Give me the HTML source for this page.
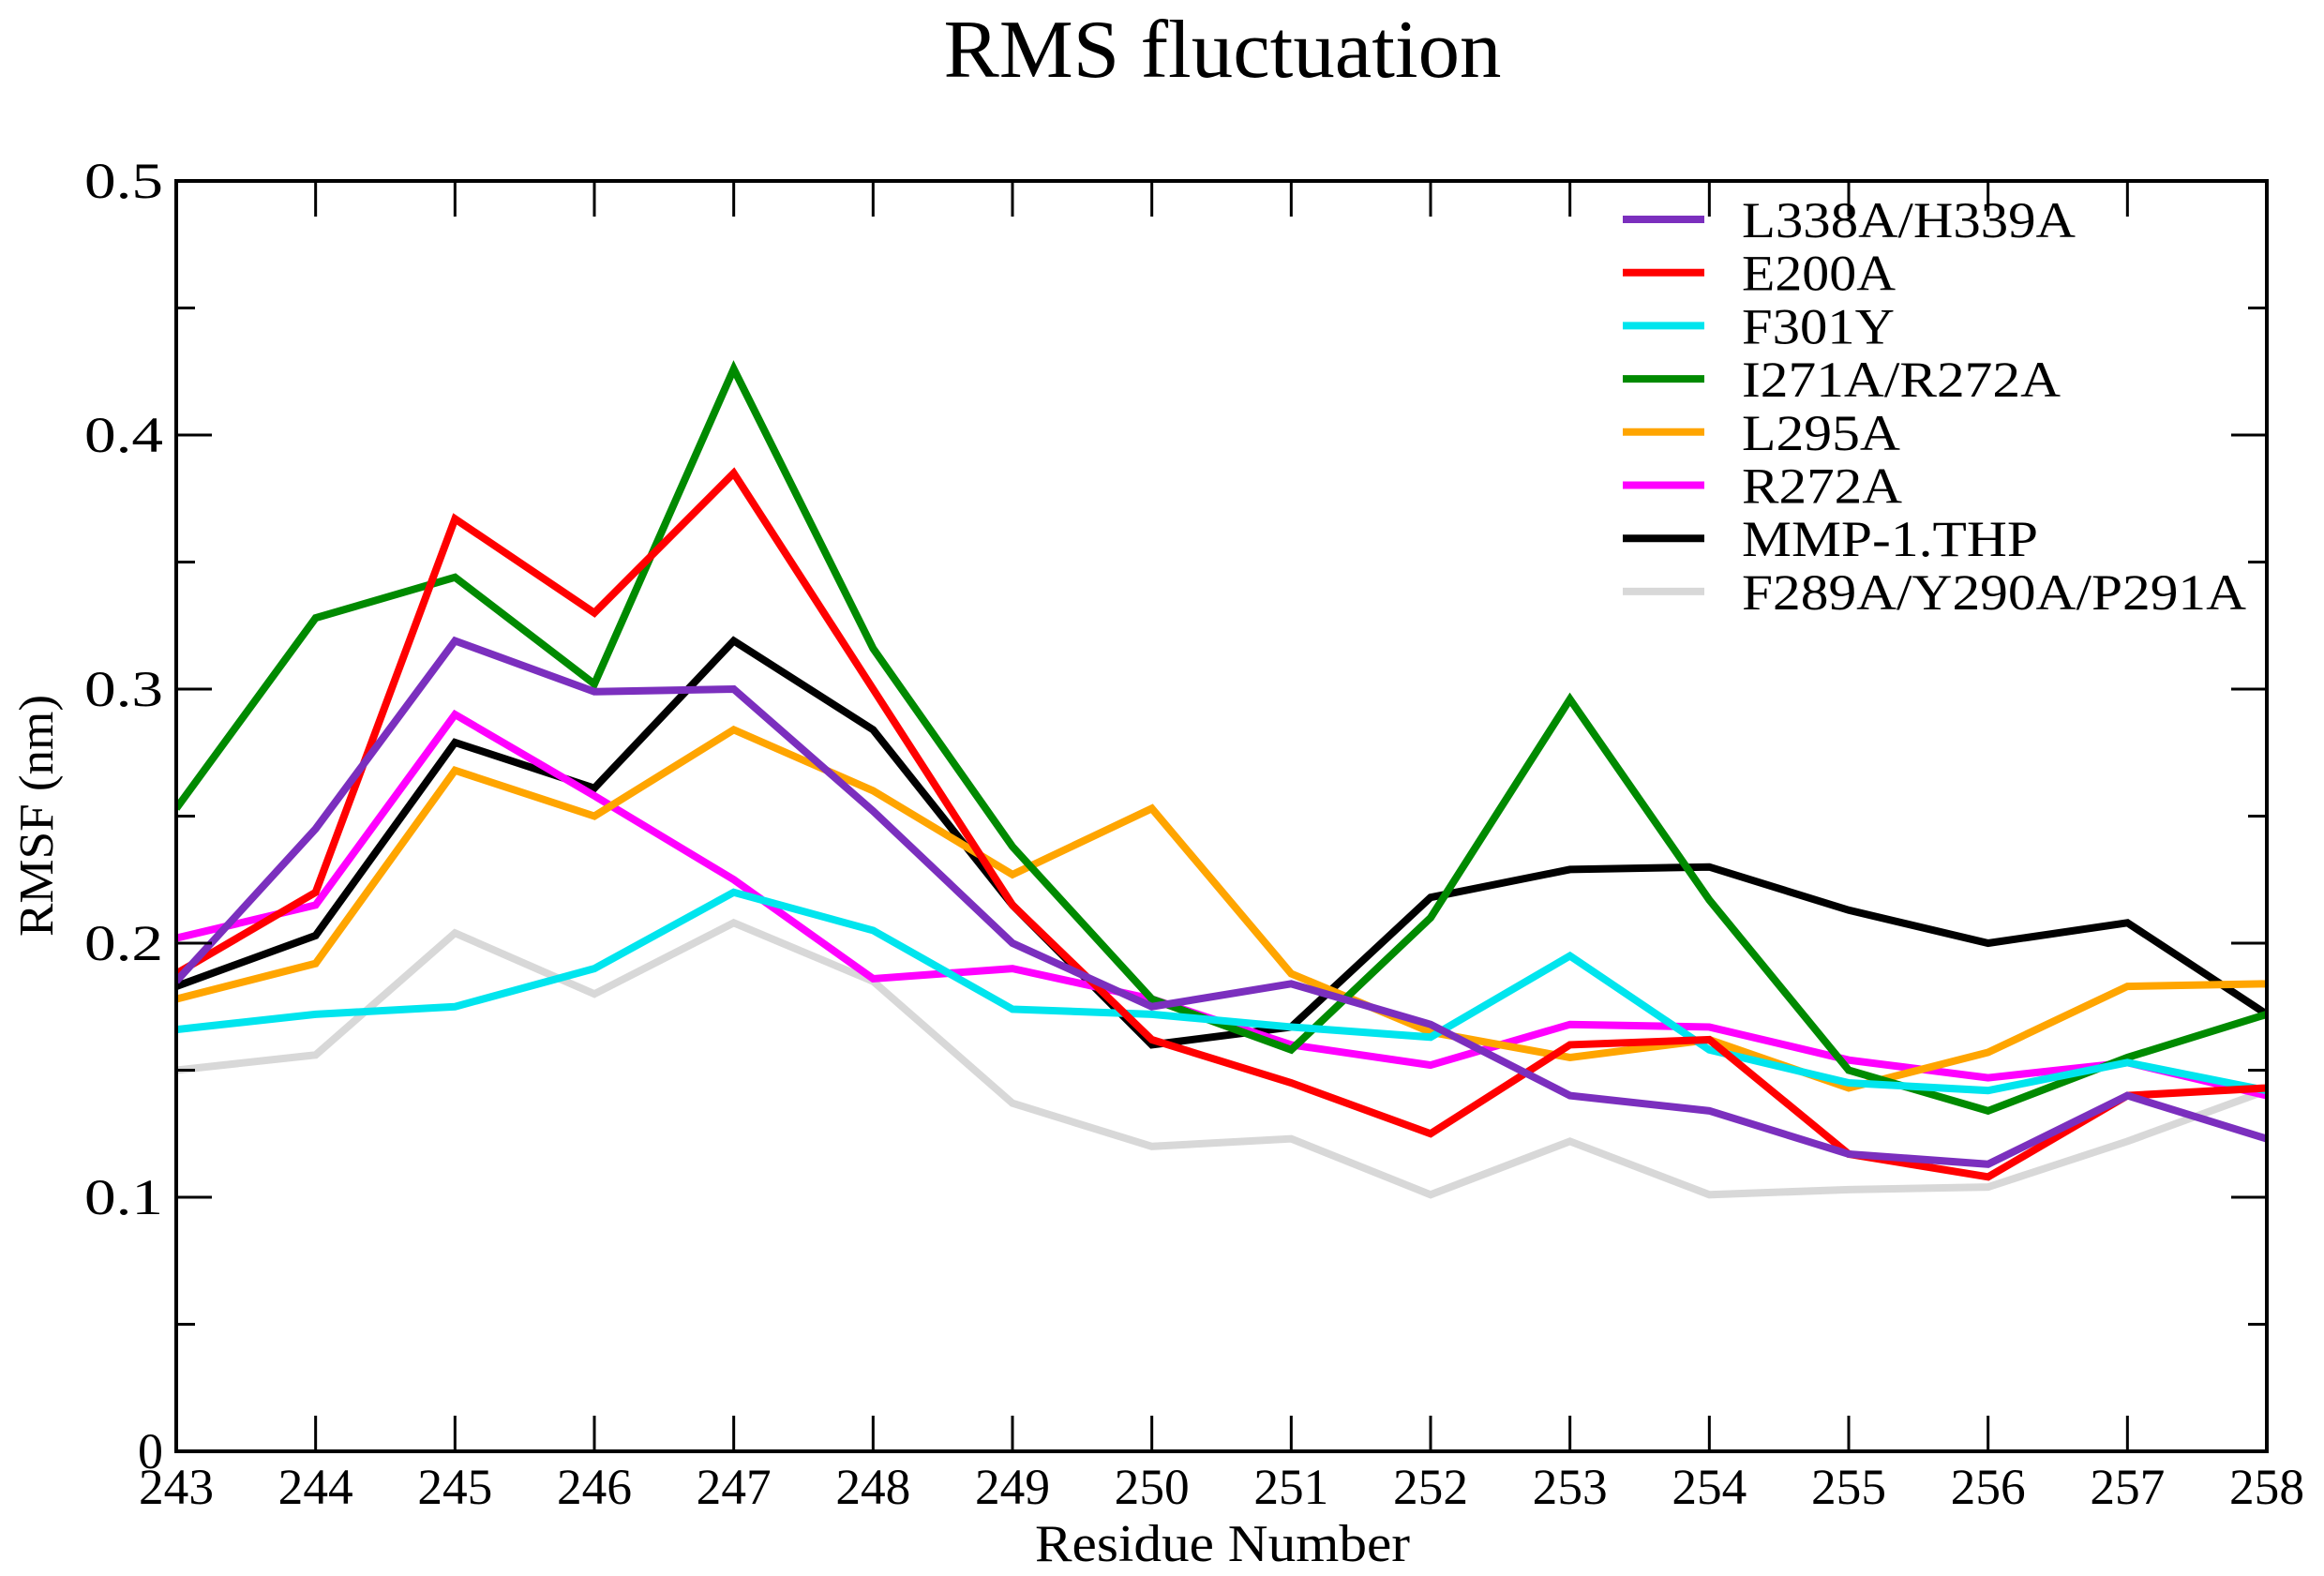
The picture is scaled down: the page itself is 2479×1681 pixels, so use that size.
<!DOCTYPE html>
<html><head><meta charset="utf-8"><style>
body{margin:0;background:#fff}
svg{display:block}
text{font-family:"Liberation Serif",serif;fill:#000}
</style></head><body>
<svg id="s" width="2479" height="1681" xmlns="http://www.w3.org/2000/svg">
<text x="1304" y="82" font-size="88" text-anchor="middle" textLength="595" lengthAdjust="spacingAndGlyphs">RMS fluctuation</text>
<text x="1304" y="1665" font-size="56" text-anchor="middle" textLength="400" lengthAdjust="spacingAndGlyphs">Residue Number</text>
<text transform="translate(56,870) rotate(-90)" font-size="52" text-anchor="middle" textLength="258" lengthAdjust="spacingAndGlyphs">RMSF (nm)</text>
<g id="g"></g>
</svg>
<script>
const X0=188,X1=2418,Y0=1548,Y1=193;
const xs=i=>X0+(X1-X0)*i/15, ys=v=>Y0-(Y0-Y1)*v/0.5;
const g=document.getElementById('g');let h='';
const series=[
['#7b2fbe','L338A/H339A',[0.185,0.245,0.319,0.299,0.300,0.252,0.200,0.175,0.184,0.168,0.140,0.134,0.117,0.113,0.140,0.123]],
['#ff0000','E200A',[0.188,0.220,0.367,0.330,0.385,0.300,0.215,0.162,0.145,0.125,0.160,0.162,0.117,0.108,0.140,0.143]],
['#00e5ee','F301Y',[0.166,0.172,0.175,0.190,0.220,0.205,0.174,0.172,0.167,0.163,0.195,0.158,0.145,0.142,0.153,0.142]],
['#008a00','I271A/R272A',[0.253,0.328,0.344,0.302,0.426,0.316,0.238,0.178,0.158,0.210,0.296,0.217,0.150,0.134,0.155,0.172]],
['#ffa500','L295A',[0.178,0.192,0.268,0.250,0.284,0.260,0.227,0.253,0.188,0.165,0.155,0.162,0.143,0.157,0.183,0.184]],
['#ff00ff','R272A',[0.202,0.215,0.290,0.258,0.225,0.186,0.190,0.178,0.160,0.152,0.168,0.167,0.154,0.147,0.153,0.140]],
['#000000','MMP-1.THP',[0.183,0.203,0.279,0.261,0.319,0.284,0.215,0.160,0.167,0.218,0.229,0.230,0.213,0.200,0.208,0.172]],
['#d8d8d8','F289A/Y290A/P291A',[0.150,0.156,0.204,0.180,0.208,0.185,0.137,0.120,0.123,0.101,0.122,0.101,0.103,0.104,0.122,0.142]]];
h+='<defs><clipPath id="c"><rect x="'+X0+'" y="'+Y1+'" width="'+(X1-X0)+'" height="'+(Y0-Y1)+'"/></clipPath></defs>';
for(let k=series.length-1;k>=0;k--){const s=series[k];
 h+='<polyline clip-path="url(#c)" fill="none" stroke="'+s[0]+'" stroke-width="8" stroke-linejoin="miter" points="'+s[2].map((v,i)=>xs(i)+','+ys(v)).join(' ')+'"/>';}
const lens=[356,164,163,340,169,171,316,538];
series.forEach((s,i)=>{const y=234+56.7*i;
 h+='<line x1="1731" x2="1818" y1="'+y+'" y2="'+y+'" stroke="'+s[0]+'" stroke-width="8"/>';
 h+='<text x="1858" y="'+(y+19)+'" font-size="54" textLength="'+lens[i]+'" lengthAdjust="spacingAndGlyphs">'+s[1]+'</text>';});
h+='<rect x="'+X0+'" y="'+Y1+'" width="'+(X1-X0)+'" height="'+(Y0-Y1)+'" fill="none" stroke="#000" stroke-width="4"/>';
for(let i=0;i<=15;i++){const x=xs(i);
 h+='<line x1="'+x+'" x2="'+x+'" y1="'+Y0+'" y2="'+(Y0-38)+'" stroke="#000" stroke-width="3"/>';
 h+='<line x1="'+x+'" x2="'+x+'" y1="'+Y1+'" y2="'+(Y1+38)+'" stroke="#000" stroke-width="3"/>';
 h+='<text x="'+x+'" y="'+(Y0+56)+'" font-size="54" text-anchor="middle" textLength="80" lengthAdjust="spacingAndGlyphs">'+(243+i)+'</text>';}
for(let j=0;j<=10;j++){const y=ys(j*0.05),L=j%2?20:38;
 h+='<line x1="'+X0+'" x2="'+(X0+L)+'" y1="'+y+'" y2="'+y+'" stroke="#000" stroke-width="3"/>';
 h+='<line x1="'+X1+'" x2="'+(X1-L)+'" y1="'+y+'" y2="'+y+'" stroke="#000" stroke-width="3"/>';
 if(j%2==0){const t=j==0?'0':(j*0.05).toFixed(1);
 h+='<text x="'+(X0-14)+'" y="'+(y+18)+'" font-size="54" text-anchor="end"'+(j?' textLength="84" lengthAdjust="spacingAndGlyphs"':'')+'>'+t+'</text>';}}
g.innerHTML=h;
</script>
</body></html>
